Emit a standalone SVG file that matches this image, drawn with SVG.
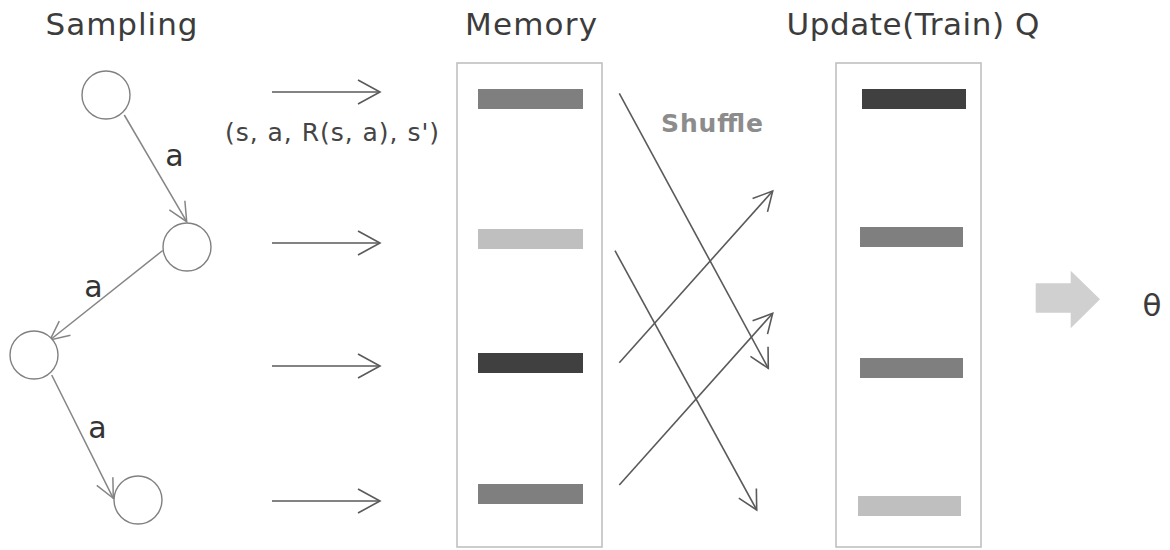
<svg xmlns="http://www.w3.org/2000/svg" width="1170" height="550" viewBox="0 0 1170 550">
<defs>
<style>
.head{font-family:"DejaVu Sans","Liberation Sans",sans-serif;font-size:31px;fill:#3c3c3c;text-anchor:middle}
.lbl{font-family:"DejaVu Sans","Liberation Sans",sans-serif;font-size:30px;fill:#333;text-anchor:middle}
.tup{font-family:"DejaVu Sans","Liberation Sans",sans-serif;font-size:25px;fill:#444;text-anchor:middle}
.shuf{font-family:"DejaVu Sans","Liberation Sans",sans-serif;font-size:25px;font-weight:bold;fill:#8c8c8c}
.node{fill:#fff;stroke:#808080;stroke-width:1.4}
.box{fill:#fff;stroke:#c0c0c0;stroke-width:1.6}
.tree{stroke:#858585;stroke-width:1.5;fill:none;marker-end:url(#ah1)}
.harr{stroke:#5a5a5a;stroke-width:1.6;fill:none;marker-end:url(#ah2)}
.sarr{stroke:#5a5a5a;stroke-width:1.6;fill:none;marker-end:url(#ah3)}
</style>
<marker id="ah1" markerUnits="userSpaceOnUse" orient="auto" refX="0" refY="0" markerWidth="30" markerHeight="30" overflow="visible">
<path d="M-19,-9 L0,0 L-19,9" fill="none" stroke="#858585" stroke-width="1.5"/>
</marker>
<marker id="ah2" markerUnits="userSpaceOnUse" orient="auto" refX="0" refY="0" markerWidth="30" markerHeight="30" overflow="visible">
<path d="M-22,-12 L0,0 L-22,12" fill="none" stroke="#5a5a5a" stroke-width="1.6"/>
</marker>
<marker id="ah3" markerUnits="userSpaceOnUse" orient="auto" refX="0" refY="0" markerWidth="30" markerHeight="30" overflow="visible">
<path d="M-19,-10 L0,0 L-19,10" fill="none" stroke="#5a5a5a" stroke-width="1.6"/>
</marker>
</defs>
<rect width="1170" height="550" fill="#fff"/>

<g id="titles">
<text class="head" x="121.5" y="35" textLength="152">Sampling</text>
<text class="head" x="531" y="35" textLength="132">Memory</text>
<text class="head" x="913" y="35" textLength="253">Update(Train) Q</text>
</g>

<g id="connectors">
<line class="tree" x1="124.3" y1="115" x2="186.7" y2="221.7"/>
<line class="tree" x1="162.7" y1="250.5" x2="50" y2="340"/>
<line class="tree" x1="51.7" y1="375" x2="113.3" y2="498.3"/>
<line class="harr" x1="272" y1="92" x2="380" y2="92"/>
<line class="harr" x1="272" y1="243" x2="380" y2="243"/>
<line class="harr" x1="272" y1="366" x2="380" y2="366"/>
<line class="harr" x1="272" y1="501" x2="380" y2="501"/>
<line class="sarr" x1="619.3" y1="93.3" x2="768.3" y2="368.3"/>
<line class="sarr" x1="615" y1="250.7" x2="756.7" y2="510"/>
<line class="sarr" x1="619.3" y1="362.7" x2="772.7" y2="191"/>
<line class="sarr" x1="619.3" y1="485" x2="772.7" y2="313.3"/>
<polygon id="bigarrow" points="1035.7,283.3 1070.7,283.3 1070.7,270.7 1100,299.3 1070.7,328.3 1070.7,312.7 1035.7,312.7" fill="#d0d0d0"/>
</g>

<g id="n1"><circle class="node" cx="106" cy="95" r="24"/></g>
<g id="n2"><circle class="node" cx="187" cy="247" r="24"/></g>
<g id="n3"><circle class="node" cx="34" cy="355" r="24"/></g>
<g id="n4"><circle class="node" cx="138" cy="500" r="24"/></g>

<g id="labels">
<text class="lbl" x="174.5" y="166">a</text>
<text class="lbl" x="93.5" y="297">a</text>
<text class="lbl" x="97.5" y="438">a</text>
<text class="tup" x="332" y="141" textLength="214">(s, a, R(s, a), s')</text>
<text class="shuf" x="661" y="131.5" textLength="102">Shuffle</text>
</g>

<g id="memory">
<rect class="box" x="457" y="63" width="145" height="484"/>
<rect x="478" y="89" width="105" height="20" fill="#7f7f7f"/>
<rect x="478" y="229" width="105" height="20" fill="#bfbfbf"/>
<rect x="478" y="353" width="105" height="20" fill="#404040"/>
<rect x="478" y="484" width="105" height="20" fill="#7f7f7f"/>
</g>

<g id="update">
<rect class="box" x="836" y="63" width="145" height="484"/>
<rect x="862" y="89" width="104" height="20" fill="#404040"/>
<rect x="860" y="227" width="103" height="20" fill="#7f7f7f"/>
<rect x="860" y="358" width="103" height="20" fill="#7f7f7f"/>
<rect x="858" y="496" width="103" height="20" fill="#bfbfbf"/>
</g>

<g id="theta">
<text class="head" x="1152" y="316">θ</text>
</g>
</svg>
